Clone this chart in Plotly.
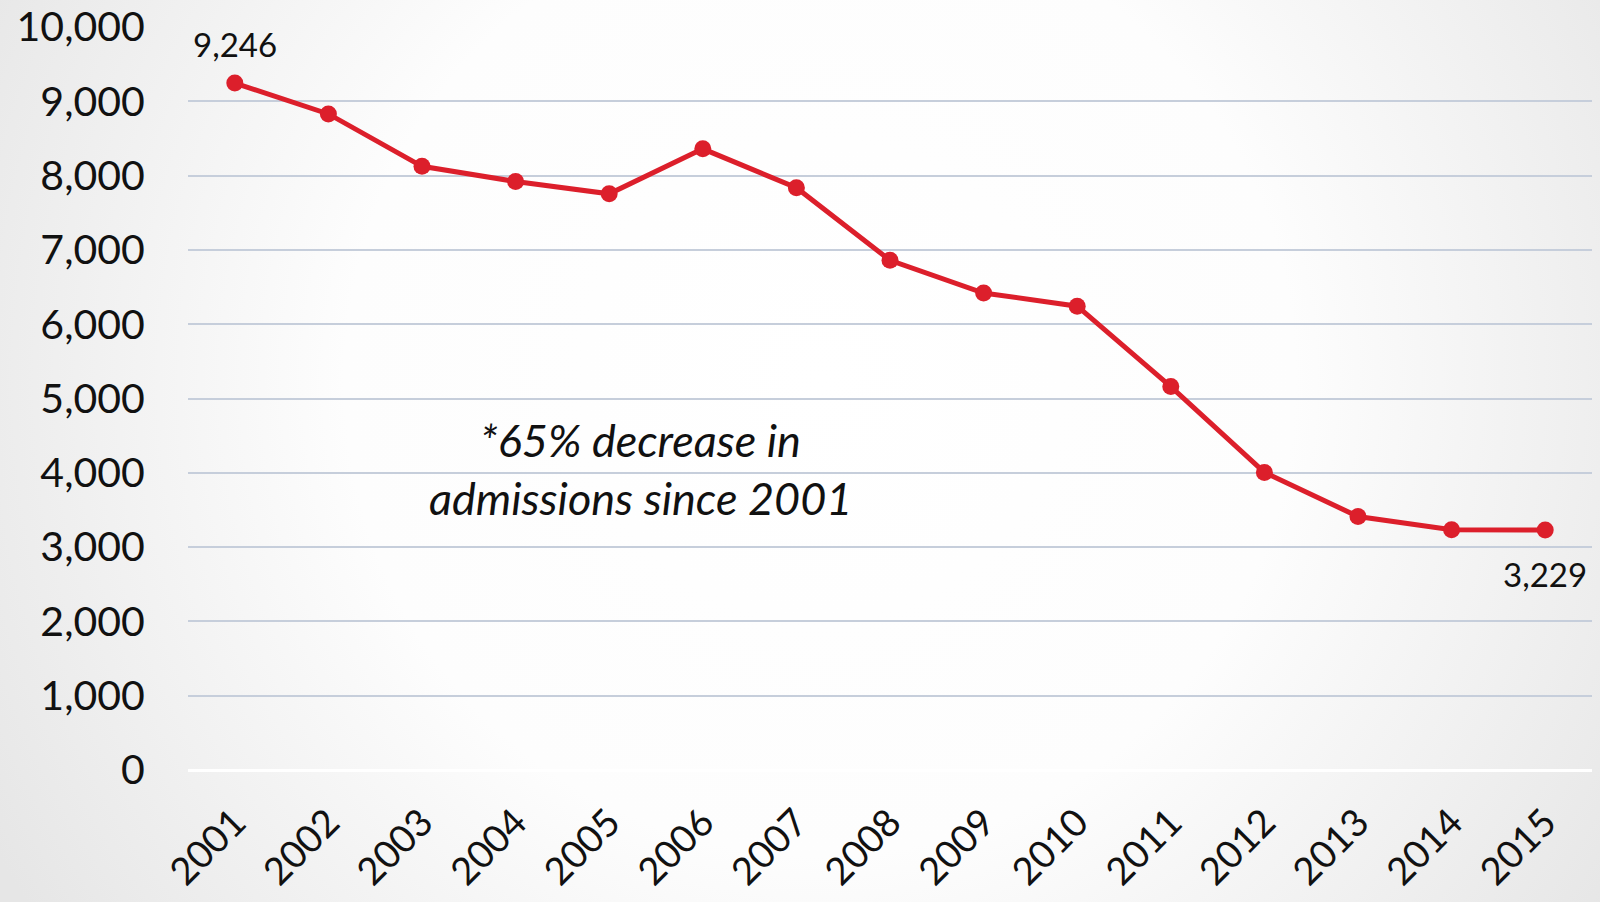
import base64
import plotly.graph_objects as go

years = ["2001", "2002", "2003", "2004", "2005", "2006", "2007", "2008",
         "2009", "2010", "2011", "2012", "2013", "2014", "2015"]
admissions = [9246, 8830, 8125, 7920, 7755, 8360, 7836, 6860,
              6420, 6243, 5160, 4005, 3412, 3235, 3229]
y_ticks = [0, 1000, 2000, 3000, 4000, 5000, 6000, 7000, 8000, 9000, 10000]
y_tick_labels = ["0", "1,000", "2,000", "3,000", "4,000", "5,000",
                 "6,000", "7,000", "8,000", "9,000", "10,000"]
note_lines = ["*65% decrease in", "admissions since 2001"]
first_label, last_label = "9,246", "3,229"

W, H = 1600, 902
ML, MR, MT, MB = 188, 8, 27, 132
PW, PH = W - ML - MR, H - MT - MB

svg = f'''<svg xmlns="http://www.w3.org/2000/svg" width="{W}" height="{H}" viewBox="0 0 {W} {H}" preserveAspectRatio="none">
<defs><radialGradient id="g" gradientUnits="userSpaceOnUse" cx="820" cy="380" r="950">
<stop offset="0%" stop-color="#ffffff"/>
<stop offset="50%" stop-color="#fdfdfd"/>
<stop offset="100%" stop-color="#e6e6e6"/>
</radialGradient></defs>
<rect width="{W}" height="{H}" fill="url(#g)"/></svg>'''
bg_uri = "data:image/svg+xml;base64," + base64.b64encode(svg.encode()).decode()

red = "#dc1f2b"
font_family = "Lato, 'Open Sans', sans-serif"

fig = go.Figure()
fig.add_trace(go.Scatter(
    x=years, y=admissions, mode="lines+markers",
    line=dict(color=red, width=5),
    marker=dict(color=red, size=17),
    hoverinfo="x+y", showlegend=False,
))

fig.add_annotation(x=0, y=admissions[0], text=first_label, showarrow=False,
                   yshift=39, font=dict(size=33, color="#111111", family=font_family))
fig.add_annotation(x=len(years) - 1, y=admissions[-1], text=last_label, showarrow=False,
                   yshift=-44, font=dict(size=33, color="#111111", family=font_family))
fig.add_annotation(x=4.33, y=4440, text=f"<i>{note_lines[0]}</i>", showarrow=False,
                   font=dict(size=45, color="#111111", family=font_family))
fig.add_annotation(x=4.33, y=3660, text=f"<i>{note_lines[1]}</i>", showarrow=False,
                   font=dict(size=45, color="#111111", family=font_family))

fig.add_layout_image(dict(
    source=bg_uri, xref="paper", yref="paper",
    x=-ML / PW, y=1 + MT / PH, sizex=W / PW, sizey=H / PH,
    xanchor="left", yanchor="top", sizing="stretch", layer="below",
))

fig.update_layout(
    width=W, height=H,
    margin=dict(l=ML, r=MR, t=MT, b=MB, autoexpand=False),
    paper_bgcolor="#f4f4f4",
    plot_bgcolor="rgba(0,0,0,0)",
    font=dict(family=font_family, color="#111111"),
    xaxis=dict(
        type="category", range=[-0.5, 14.5], showgrid=False, zeroline=False,
        showline=False, tickangle=-45, ticks="outside", ticklen=14,
        tickcolor="rgba(0,0,0,0)", tickfont=dict(size=38, family=font_family),
        automargin=False,
    ),
    yaxis=dict(
        range=[0, 10000], tickvals=y_ticks, ticktext=y_tick_labels,
        showgrid=True, gridcolor="#c6cedb", gridwidth=2,
        zeroline=True, zerolinecolor="#ffffff", zerolinewidth=3,
        showline=False, ticks="outside", ticklen=34,
        tickcolor="rgba(0,0,0,0)", tickfont=dict(size=41, family=font_family),
        automargin=False,
    ),
)

fig.write_html(
    "out.html",
    config={"displayModeBar": False},
    post_script="document.body.style.margin='0';document.body.style.overflow='hidden';",
)
